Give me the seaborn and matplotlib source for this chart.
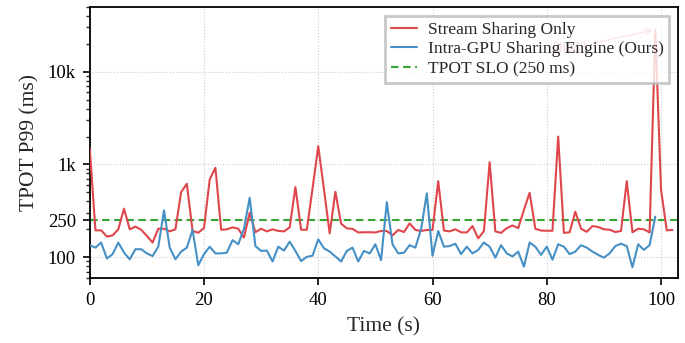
import numpy as np
import pandas as pd
import matplotlib
matplotlib.use("Agg")
import matplotlib.pyplot as plt
from matplotlib.ticker import FixedLocator, FixedFormatter, LogLocator, NullFormatter
import seaborn as sns

# TPOT P99 per second (ms)
stream_only = [
    1510, 195, 195, 167, 172, 200, 334, 200, 214, 198,
    170, 144, 203, 203, 190, 200, 503, 620, 192, 184,
    206, 690, 922, 198, 200, 210, 203, 163, 302, 186,
    203, 190, 200, 192, 190, 210, 570, 198, 198, 550,
    1575, 540, 181, 508, 230, 205, 202, 185, 186, 186,
    185, 192, 192, 172, 197, 187, 232, 197, 192, 197,
    197, 661, 194, 190, 200, 186, 185, 217, 160, 191,
    1058, 190, 183, 206, 220, 206, 323, 496, 203, 194,
    193, 193, 2000, 183, 186, 310, 203, 188, 217, 212,
    200, 198, 187, 192, 661, 186, 203, 200, 185, 28283,
    540, 195, 197,
]
intra_gpu = [
    135, 127, 144, 97, 108, 144, 112, 95, 122, 122,
    110, 103, 130, 320, 127, 95, 115, 127, 197, 82,
    108, 130, 110, 110, 112, 153, 138, 203, 438, 132,
    117, 118, 90, 130, 118, 147, 117, 91, 101, 104,
    156, 125, 115, 102, 90, 117, 127, 90, 117, 110,
    138, 93, 393, 138, 110, 112, 135, 127, 200, 488,
    104, 192, 130, 132, 140, 108, 130, 110, 120, 144,
    130, 99, 135, 110, 102, 115, 79, 144, 130, 106,
    130, 94, 138, 130, 108, 115, 135, 127, 115, 106,
    99, 110, 132, 140, 132, 78, 138, 120, 135, 274,
]
slo_ms = 250
y_ticks = [100, 250, 1000, 10000]
y_tick_labels = ["100", "250", "1k", "10k"]
x_ticks = [0, 20, 40, 60, 80, 100]

df_stream = pd.DataFrame({"t": np.arange(len(stream_only)), "v": stream_only})
df_intra = pd.DataFrame({"t": np.arange(len(intra_gpu)), "v": intra_gpu})

sns.set_style("ticks")
plt.rcParams["font.family"] = ["Liberation Serif", "DejaVu Serif"]
plt.rcParams["mathtext.fontset"] = "stix"

fig, ax = plt.subplots(figsize=(6.85, 3.43), dpi=100)
fig.subplots_adjust(left=0.131, right=0.99, top=0.98, bottom=0.19)

red = "#de464b"
blue = "#4690c6"
green = "#35a635"

sns.lineplot(data=df_stream, x="t", y="v", ax=ax, color=red, lw=1.5,
             label="Stream Sharing Only", zorder=3)
sns.lineplot(data=df_intra, x="t", y="v", ax=ax, color=blue, lw=1.5,
             label="Intra-GPU Sharing Engine (Ours)", zorder=3)
ax.axhline(slo_ms, color=green, ls=(0, (3.6, 2.2)), lw=1.5,
           label=f"TPOT SLO ({slo_ms} ms)", zorder=2)

# annotate the largest spike
i_peak = int(np.argmax(stream_only))
peak = stream_only[i_peak]
ax.annotate(f"{peak}", xy=(i_peak, peak), xytext=(84, 18000),
            ha="center", va="center", color=red, fontsize=10,
            arrowprops=dict(arrowstyle="->", color=red, lw=1.0, alpha=0.6))

ax.set_yscale("log")
ax.set_ylim(60, 50000)
ax.set_xlim(0, 103)
ax.yaxis.set_major_locator(FixedLocator(y_ticks))
ax.yaxis.set_major_formatter(FixedFormatter(y_tick_labels))
ax.yaxis.set_minor_locator(LogLocator(base=10, subs=np.arange(2, 10)))
ax.yaxis.set_minor_formatter(NullFormatter())
ax.set_xticks(x_ticks)

ax.grid(True, which="major", color="#cccccc", ls=":", lw=0.8)
for s in ax.spines.values():
    s.set_visible(True)
    s.set_color("black")
    s.set_linewidth(1.3)
ax.tick_params(axis="both", which="major", direction="out", length=5, width=1.2,
               labelsize=13.5, colors="black", pad=5)
ax.tick_params(axis="y", which="minor", direction="out", length=3, width=1.0)

ax.set_xlabel("Time (s)", fontsize=15.5, labelpad=6)
ax.set_ylabel("TPOT P99 (ms)", fontsize=15.5, labelpad=6)

leg = ax.legend(loc="upper right", fontsize=12.5, frameon=True, framealpha=0.8,
                fancybox=False, edgecolor="#bbbbbb", borderpad=0.35,
                handlelength=1.5, handletextpad=0.6, labelspacing=0.2,
                borderaxespad=0.5)
leg.get_frame().set_linewidth(2.0)
leg.set_zorder(10)

fig.savefig("out.png", dpi=100)
